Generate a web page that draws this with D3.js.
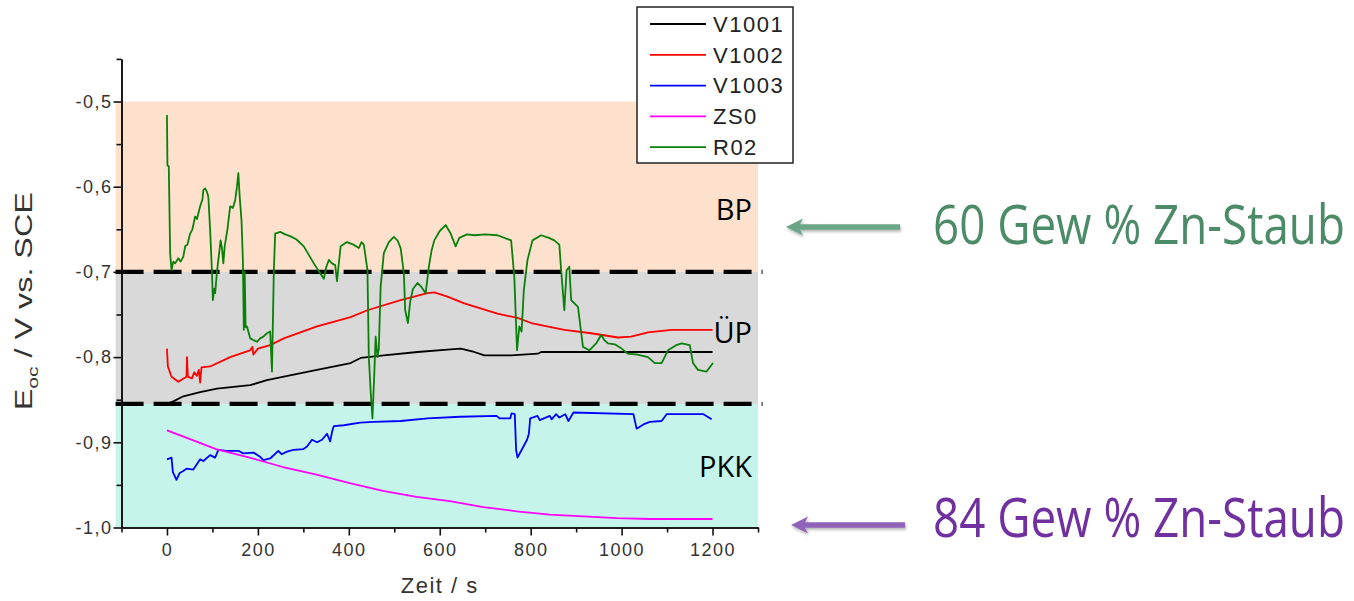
<!DOCTYPE html>
<html>
<head>
<meta charset="utf-8">
<script src="https://cdn.jsdelivr.net/npm/d3@7"></script>
<style>
  body { margin: 0; background: #fff; }
  svg { display: block; }
  .tick text { font-family: "Liberation Sans", Arial, sans-serif; font-size: 18px; fill: #333; letter-spacing: 1.5px; }
</style>
</head>
<body>
<svg id="chart" width="1354" height="601"></svg>
<script>
// time in s, potential in V vs. SCE
var v1001 = [[0,-0.855],[14,-0.852],[36,-0.846],[73,-0.841],[110,-0.837],[183,-0.833],[220,-0.827],[257,-0.823],[330,-0.815],[404,-0.807],[426,-0.801],[477,-0.798],[551,-0.794],[624,-0.791],[646,-0.790],[676,-0.794],[698,-0.798],[757,-0.798],[816,-0.796],[823,-0.794],[1200,-0.794]];

var v1002 = [[0,-0.790],[2,-0.811],[10,-0.823],[25,-0.829],[43,-0.823],[44,-0.800],[46,-0.823],[55,-0.825],[60,-0.818],[66,-0.822],[70,-0.815],[73,-0.830],[76,-0.812],[95,-0.811],[139,-0.800],[183,-0.792],[188,-0.788],[190,-0.797],[200,-0.790],[227,-0.786],[257,-0.778],[330,-0.764],[404,-0.753],[441,-0.745],[514,-0.733],[573,-0.725],[588,-0.724],[617,-0.729],[654,-0.737],[727,-0.749],[771,-0.754],[801,-0.760],[874,-0.768],[933,-0.772],[992,-0.777],[1021,-0.776],[1058,-0.771],[1110,-0.768],[1200,-0.768]];

var v1003 = [[0,-0.920],[10,-0.918],[13,-0.935],[21,-0.944],[28,-0.936],[35,-0.934],[43,-0.931],[58,-0.932],[73,-0.920],[80,-0.922],[95,-0.915],[106,-0.918],[113,-0.909],[131,-0.910],[157,-0.910],[168,-0.913],[190,-0.912],[205,-0.917],[212,-0.921],[227,-0.919],[245,-0.910],[252,-0.914],[264,-0.911],[278,-0.909],[300,-0.908],[308,-0.905],[319,-0.897],[330,-0.900],[341,-0.897],[352,-0.890],[359,-0.899],[363,-0.888],[367,-0.881],[389,-0.880],[425,-0.877],[455,-0.876],[514,-0.875],[573,-0.872],[645,-0.870],[725,-0.869],[732,-0.872],[755,-0.872],[758,-0.866],[765,-0.867],[768,-0.909],[771,-0.918],[780,-0.909],[792,-0.897],[796,-0.890],[799,-0.872],[815,-0.869],[820,-0.874],[842,-0.869],[846,-0.873],[856,-0.867],[863,-0.871],[876,-0.867],[883,-0.875],[894,-0.865],[1026,-0.867],[1033,-0.884],[1048,-0.879],[1062,-0.876],[1088,-0.875],[1099,-0.867],[1180,-0.867],[1198,-0.873]];

var zs0 = [[0,-0.886],[35,-0.893],[108,-0.908],[182,-0.918],[255,-0.929],[329,-0.938],[402,-0.948],[475,-0.957],[549,-0.964],[622,-0.969],[696,-0.976],[769,-0.981],[842,-0.985],[916,-0.987],[989,-0.989],[1062,-0.990],[1200,-0.990]];

var r02 = [[0,-0.516],[1,-0.575],[4,-0.576],[7,-0.678],[10,-0.698],[14,-0.688],[18,-0.690],[25,-0.684],[30,-0.688],[36,-0.682],[40,-0.670],[45,-0.668],[51,-0.655],[56,-0.650],[62,-0.635],[66,-0.638],[73,-0.623],[78,-0.615],[80,-0.604],[84,-0.602],[88,-0.606],[91,-0.612],[95,-0.651],[99,-0.700],[101,-0.733],[104,-0.720],[106,-0.725],[110,-0.700],[113,-0.686],[118,-0.663],[121,-0.672],[124,-0.690],[127,-0.670],[133,-0.650],[139,-0.623],[145,-0.625],[150,-0.616],[154,-0.600],[157,-0.584],[160,-0.612],[164,-0.640],[167,-0.686],[169,-0.768],[171,-0.700],[173,-0.765],[176,-0.764],[183,-0.778],[190,-0.780],[198,-0.782],[205,-0.778],[212,-0.776],[220,-0.772],[227,-0.770],[231,-0.817],[235,-0.700],[238,-0.655],[249,-0.653],[260,-0.656],[271,-0.658],[285,-0.662],[301,-0.670],[312,-0.680],[323,-0.690],[335,-0.700],[345,-0.708],[350,-0.695],[356,-0.686],[363,-0.690],[370,-0.692],[374,-0.711],[378,-0.690],[382,-0.670],[396,-0.665],[410,-0.668],[422,-0.672],[428,-0.665],[433,-0.668],[441,-0.698],[444,-0.800],[448,-0.840],[452,-0.872],[456,-0.820],[459,-0.776],[463,-0.800],[466,-0.790],[470,-0.717],[477,-0.678],[488,-0.665],[499,-0.659],[507,-0.663],[514,-0.672],[521,-0.701],[524,-0.745],[530,-0.760],[535,-0.735],[541,-0.720],[551,-0.713],[560,-0.718],[569,-0.725],[576,-0.694],[582,-0.675],[588,-0.663],[600,-0.652],[613,-0.645],[624,-0.655],[635,-0.670],[643,-0.660],[660,-0.656],[676,-0.657],[700,-0.656],[727,-0.657],[757,-0.663],[764,-0.706],[770,-0.792],[775,-0.764],[780,-0.770],[785,-0.721],[793,-0.686],[804,-0.663],[823,-0.657],[840,-0.660],[852,-0.663],[863,-0.668],[867,-0.698],[874,-0.745],[879,-0.698],[885,-0.694],[889,-0.733],[904,-0.741],[915,-0.788],[929,-0.792],[944,-0.784],[955,-0.774],[962,-0.780],[970,-0.784],[985,-0.785],[1000,-0.790],[1014,-0.796],[1035,-0.797],[1058,-0.800],[1073,-0.807],[1088,-0.807],[1102,-0.792],[1120,-0.786],[1132,-0.784],[1150,-0.786],[1157,-0.807],[1168,-0.815],[1187,-0.817],[1201,-0.807]];

var seriesNames = ["V1001", "V1002", "V1003", "ZS0", "R02"];
var seriesData = [v1001, v1002, v1003, zs0, r02];
var seriesColors = ["#000000", "#ff0000", "#0000ff", "#ff00ff", "#0a800a"];

// potential ranges: BP / ÜP / PKK
var bandLimits = [-0.5, -0.7, -0.855, -1.0];
var bandNames = ["BP", "ÜP", "PKK"];
var bandLabelY = [-0.639, -0.7835, -0.9405];
var bandColors = ["#fde1cd", "#d9d9d9", "#c4f4ea"];
var dashLevels = [-0.7, -0.855];

var yMajor = [-1.0, -0.9, -0.8, -0.7, -0.6, -0.5];
var yMinor = [-0.95, -0.85, -0.75, -0.65, -0.55, -0.45];
var xMajor = [0, 200, 400, 600, 800, 1000, 1200];
var xMinor = [-100, 100, 300, 500, 700, 900, 1100, 1300];

var notes = ["60 Gew % Zn-Staub", "84 Gew % Zn-Staub"];
var noteColors = ["#4c8b67", "#7030a0"];
var arrowColors = ["#6ba588", "#9163b8"];

var svg = d3.select("#chart");

var x = d3.scaleLinear().domain([-100, 1300]).range([121.5, 758]);
var y = d3.scaleLinear().domain([-1.0, -0.45]).range([527.5, 58.9]);

var defs = svg.append("defs");
defs.append("filter").attr("id", "shadow")
    .attr("x", "-20%").attr("y", "-100%").attr("width", "140%").attr("height", "300%")
    .append("feDropShadow")
    .attr("dx", 1).attr("dy", 2).attr("stdDeviation", 1.5)
    .attr("flood-color", "#000").attr("flood-opacity", 0.3);

// background bands
svg.append("g").selectAll("rect")
    .data(bandNames)
    .enter()
    .append("rect")
        .attr("x", x(-113))
        .attr("width", x(1300) - x(-113))
        .attr("y", function(d, i) { return y(bandLimits[i]); })
        .attr("height", function(d, i) { return y(bandLimits[i+1]) - y(bandLimits[i]); })
        .style("fill", function(d, i) { return bandColors[i]; });

svg.append("g").selectAll("line")
    .data(dashLevels)
    .enter()
    .append("line")
        .attr("x1", x(-113)).attr("x2", x(1310))
        .attr("y1", function(d) { return y(d); })
        .attr("y2", function(d) { return y(d); })
        .attr("stroke", "#000")
        .attr("stroke-width", 4.3)
        .attr("stroke-dasharray", "28,10");

svg.append("g").selectAll("text")
    .data(bandNames)
    .enter()
    .append("text")
        .attr("x", x(1300) - 6)
        .attr("y", function(d, i) { return y(bandLabelY[i]); })
        .attr("text-anchor", "end")
        .style("font-family", "'Open Sans', sans-serif")
        .style("font-size", "29px")
        .style("fill", "#000")
        .text(function(d) { return d; });

// lines
var line = d3.line()
    .x(function(d) { return x(d[0]); })
    .y(function(d) { return y(d[1]); });

svg.append("g").selectAll("path")
    .data(seriesData)
    .enter()
    .append("path")
        .attr("d", line)
        .attr("fill", "none")
        .attr("stroke", function(d, i) { return seriesColors[i]; })
        .attr("stroke-width", 1.8)
        .attr("stroke-linejoin", "round");

// axes
function fmt(d) { return d.toFixed(1).replace(".", ","); }

svg.append("g")
    .attr("transform", "translate(" + x(-100) + ",0)")
    .call(d3.axisLeft(y).tickValues(yMajor).tickFormat(fmt).tickSize(8).tickPadding(1).tickSizeOuter(0));
svg.append("g")
    .attr("transform", "translate(" + x(-100) + ",0)")
    .call(d3.axisLeft(y).tickValues(yMinor).tickFormat("").tickSize(5).tickSizeOuter(0));

svg.append("g")
    .attr("transform", "translate(0," + y(-1.0) + ")")
    .call(d3.axisBottom(x).tickValues(xMajor).tickFormat(d3.format("d")).tickSize(8).tickPadding(8).tickSizeOuter(0));
svg.append("g")
    .attr("transform", "translate(0," + y(-1.0) + ")")
    .call(d3.axisBottom(x).tickValues(xMinor).tickFormat("").tickSize(5).tickSizeOuter(0));

svg.selectAll(".domain").attr("stroke", "#111").attr("stroke-width", 1.6);
svg.selectAll(".tick line").attr("stroke", "#111").attr("stroke-width", 1.6);

svg.append("text")
    .attr("x", (x(-100) + x(1300)) / 2)
    .attr("y", 593)
    .attr("text-anchor", "middle")
    .style("font-family", "'Liberation Sans', Arial, sans-serif")
    .style("font-size", "22px")
    .style("letter-spacing", "1.5px")
    .style("fill", "#333")
    .text("Zeit / s");

var yTitle = svg.append("text")
    .attr("transform", "translate(32," + ((y(-0.45) + y(-1.0)) / 2 + 8) + ") rotate(-90)")
    .attr("text-anchor", "middle")
    .attr("textLength", 218)
    .attr("lengthAdjust", "spacingAndGlyphs")
    .style("font-family", "'Liberation Sans', Arial, sans-serif")
    .style("font-size", "23px")
    .style("fill", "#333");
yTitle.append("tspan").text("E");
yTitle.append("tspan").attr("dy", 6).style("font-size", "15px").text("oc");
yTitle.append("tspan").attr("dy", -6).text(" / V vs. SCE");

// legend
var legend = svg.append("g");
legend.append("rect")
    .attr("x", 637).attr("y", 7).attr("width", 156).attr("height", 156)
    .attr("fill", "#fff").attr("stroke", "#222").attr("stroke-width", 1.5);

var rows = legend.selectAll("g.row")
    .data(seriesNames)
    .enter()
    .append("g")
        .attr("class", "row")
        .attr("transform", function(d, i) { return "translate(650," + (24 + i * 30.8) + ")"; });
rows.append("line")
    .attr("x1", 0).attr("x2", 56)
    .attr("stroke", function(d, i) { return seriesColors[i]; })
    .attr("stroke-width", 1.8);
rows.append("text")
    .attr("x", 63).attr("y", 7.7)
    .style("font-family", "'Liberation Sans', Arial, sans-serif")
    .style("font-size", "22px")
    .style("letter-spacing", "1.5px")
    .style("fill", "#222")
    .text(function(d) { return d; });

// annotations on the right
var noteY = [244, 537];
var arrowY = [227, 525];
var arrowTip = [786, 791];
var arrowTail = [900, 905];
var noteX = 933, noteWidth = 412;

var ann = svg.append("g").selectAll("g")
    .data(notes)
    .enter()
    .append("g");
ann.append("path")
    .attr("d", function(d, i) {
        var t = arrowTip[i], a = arrowY[i], e = arrowTail[i], w = 2.8;
        return "M" + t + "," + a +
            "L" + (t + 17) + "," + (a - 8.5) +
            "L" + (t + 14) + "," + (a - w) +
            "L" + e + "," + (a - w) +
            "L" + e + "," + (a + w) +
            "L" + (t + 14) + "," + (a + w) +
            "L" + (t + 17) + "," + (a + 8.5) + "Z";
    })
    .attr("fill", function(d, i) { return arrowColors[i]; })
    .attr("filter", "url(#shadow)");
ann.append("text")
    .style("font-family", "'Open Sans', sans-serif")
    .style("font-size", "54px")
    .style("fill", function(d, i) { return noteColors[i]; })
    .text(function(d) { return d; })
    .attr("transform", function(d, i) {
        // squeeze the wide font to the narrow width of the original lettering
        var sx = noteWidth / this.getComputedTextLength();
        return "translate(" + noteX + "," + noteY[i] + ") scale(" + sx + ",1)";
    });
</script>
</body>
</html>
